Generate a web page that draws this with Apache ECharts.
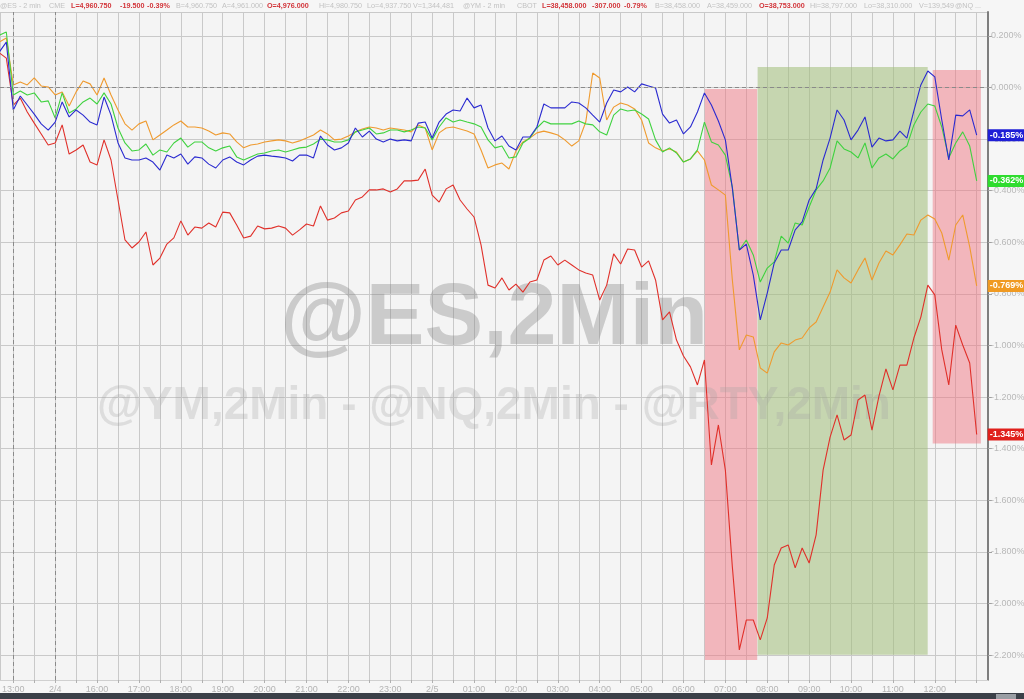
<!DOCTYPE html>
<html><head><meta charset="utf-8">
<script src="https://cdn.jsdelivr.net/npm/echarts@6/dist/echarts.min.js"></script>
<style>html,body{margin:0;padding:0;background:#f6f6f6}#c{width:1024px;height:699px}</style>
</head><body><div id="c"></div>
<script>
// time grid: hours counted from 13:00 (trading hours, break removed), 10-minute steps
const startHour = -1/3;
const stepHour = 1/6;

const hourLabels = ['13:00','2/4','16:00','17:00','18:00','19:00','20:00','21:00','22:00','23:00','2/5',
  '01:00','02:00','03:00','04:00','05:00','06:00','07:00','08:00','09:00','10:00','11:00','12:00'];

// % change, blue
const esValues = [0.138,0.176,-0.087,-0.033,-0.068,-0.103,-0.141,-0.165,-0.134,-0.056,
-0.114,-0.087,-0.107,-0.134,-0.145,-0.037,-0.107,-0.215,-0.273,-0.281,
-0.281,-0.273,-0.289,-0.320,-0.262,-0.273,-0.258,-0.297,-0.269,-0.273,
-0.297,-0.312,-0.281,-0.269,-0.289,-0.300,-0.281,-0.266,-0.262,-0.266,
-0.269,-0.273,-0.285,-0.262,-0.262,-0.273,-0.188,-0.223,-0.242,-0.234,
-0.215,-0.157,-0.192,-0.169,-0.200,-0.211,-0.200,-0.207,-0.203,-0.207,
-0.138,-0.134,-0.196,-0.134,-0.103,-0.087,-0.091,-0.041,-0.079,-0.068,
-0.157,-0.207,-0.188,-0.227,-0.242,-0.192,-0.192,-0.153,-0.064,-0.079,
-0.079,-0.079,-0.056,-0.060,-0.079,-0.107,-0.134,-0.060,-0.010,-0.017,
0.002,-0.017,0.014,0.006,-0.002,-0.103,-0.138,-0.126,-0.180,-0.153,
-0.095,-0.021,-0.068,-0.130,-0.203,-0.390,-0.630,-0.607,-0.727,-0.901,
-0.797,-0.680,-0.630,-0.630,-0.552,-0.521,-0.436,-0.393,-0.281,-0.196,
-0.087,-0.126,-0.203,-0.165,-0.114,-0.231,-0.196,-0.207,-0.203,-0.169,
-0.196,-0.091,0.010,0.064,0.041,-0.126,-0.281,-0.107,-0.110,-0.087,
-0.185];

// % change, green
const nqValues = [0.203,0.215,-0.029,-0.014,-0.029,-0.021,-0.056,-0.052,-0.118,-0.021,
-0.099,-0.083,-0.056,-0.041,-0.064,-0.021,-0.064,-0.157,-0.215,-0.246,
-0.242,-0.219,-0.262,-0.242,-0.250,-0.215,-0.196,-0.231,-0.211,-0.211,
-0.234,-0.246,-0.234,-0.227,-0.269,-0.281,-0.269,-0.258,-0.254,-0.246,
-0.242,-0.250,-0.242,-0.234,-0.231,-0.219,-0.200,-0.203,-0.211,-0.211,
-0.203,-0.172,-0.165,-0.157,-0.180,-0.176,-0.165,-0.165,-0.172,-0.165,
-0.153,-0.157,-0.203,-0.153,-0.118,-0.134,-0.126,-0.134,-0.141,-0.153,
-0.203,-0.234,-0.227,-0.273,-0.269,-0.215,-0.196,-0.157,-0.130,-0.141,
-0.141,-0.141,-0.141,-0.130,-0.141,-0.145,-0.172,-0.184,-0.107,-0.083,
-0.091,-0.087,-0.103,-0.122,-0.203,-0.250,-0.234,-0.254,-0.289,-0.277,
-0.242,-0.134,-0.211,-0.223,-0.262,-0.386,-0.630,-0.591,-0.649,-0.754,
-0.700,-0.676,-0.576,-0.603,-0.525,-0.533,-0.463,-0.397,-0.362,-0.312,
-0.207,-0.238,-0.250,-0.273,-0.215,-0.312,-0.273,-0.258,-0.277,-0.246,
-0.227,-0.145,-0.095,-0.064,-0.072,-0.153,-0.273,-0.215,-0.172,-0.227,
-0.362];

// % change, orange
const ymValues = [0.176,0.192,0.010,0.021,0.010,0.037,0.006,0.002,-0.029,-0.017,
-0.072,-0.017,0.025,0.014,-0.029,0.037,-0.029,-0.087,-0.141,-0.165,
-0.141,-0.130,-0.203,-0.184,-0.165,-0.145,-0.130,-0.153,-0.153,-0.157,
-0.169,-0.184,-0.176,-0.180,-0.211,-0.234,-0.223,-0.219,-0.211,-0.207,
-0.203,-0.207,-0.215,-0.207,-0.196,-0.184,-0.165,-0.180,-0.203,-0.200,
-0.188,-0.172,-0.161,-0.153,-0.157,-0.165,-0.157,-0.161,-0.165,-0.172,
-0.145,-0.157,-0.242,-0.176,-0.157,-0.153,-0.161,-0.169,-0.180,-0.242,
-0.312,-0.300,-0.293,-0.316,-0.246,-0.211,-0.196,-0.176,-0.169,-0.176,
-0.184,-0.203,-0.227,-0.207,-0.134,0.056,0.037,-0.126,-0.076,-0.060,
-0.068,-0.083,-0.126,-0.215,-0.234,-0.246,-0.238,-0.250,-0.289,-0.277,
-0.246,-0.281,-0.378,-0.397,-0.417,-0.746,-1.017,-0.959,-0.967,-1.087,
-1.107,-1.025,-0.990,-0.998,-0.979,-0.971,-0.932,-0.909,-0.851,-0.793,
-0.707,-0.738,-0.758,-0.707,-0.661,-0.746,-0.680,-0.634,-0.649,-0.610,
-0.568,-0.572,-0.514,-0.494,-0.510,-0.564,-0.669,-0.533,-0.494,-0.618,
-0.769];

// % change, red
const rtyValues = [0.134,0.114,-0.068,-0.041,-0.095,-0.138,-0.180,-0.223,-0.215,-0.145,
-0.258,-0.242,-0.223,-0.289,-0.300,-0.203,-0.281,-0.436,-0.591,-0.622,
-0.599,-0.560,-0.688,-0.661,-0.607,-0.583,-0.517,-0.572,-0.541,-0.545,
-0.525,-0.541,-0.483,-0.486,-0.533,-0.583,-0.576,-0.537,-0.548,-0.545,
-0.537,-0.545,-0.572,-0.552,-0.529,-0.537,-0.459,-0.514,-0.506,-0.486,
-0.479,-0.436,-0.424,-0.397,-0.397,-0.393,-0.405,-0.393,-0.362,-0.362,
-0.359,-0.316,-0.417,-0.444,-0.393,-0.378,-0.436,-0.471,-0.502,-0.610,
-0.766,-0.777,-0.738,-0.785,-0.762,-0.793,-0.754,-0.746,-0.669,-0.653,
-0.688,-0.669,-0.688,-0.707,-0.719,-0.727,-0.824,-0.766,-0.645,-0.684,
-0.626,-0.630,-0.696,-0.672,-0.746,-0.901,-0.870,-0.979,-1.041,-1.083,
-1.153,-1.056,-1.463,-1.308,-1.483,-1.858,-2.180,-2.064,-2.064,-2.141,
-2.056,-1.851,-1.785,-1.773,-1.862,-1.785,-1.843,-1.734,-1.483,-1.355,
-1.269,-1.366,-1.347,-1.211,-1.192,-1.328,-1.196,-1.091,-1.172,-1.076,
-1.076,-0.971,-0.890,-0.766,-0.804,-1.017,-1.153,-0.921,-0.998,-1.068,
-1.345];

// shaded windows (hour index, % range)
const shadeFrom = [16.51, 17.77, 21.95];
const shadeTo   = [17.76, 21.83, 23.10];
const shadeTop  = [-0.006, 0.079, 0.068];
const shadeBot  = [-2.219, -2.199, -1.380];
const shadeKind = ['red', 'green', 'red'];

const headerItems = [
  ['@ES - 2 min',0,0],['CME',49,0],['L=4,960.750',71,1],['-19.500',120,1],['-0.39%',147,1],
  ['B=4,960.750',176,0],['A=4,961.000',222,0],['O=4,976.000',267,1],['Hi=4,980.750',319,0],
  ['Lo=4,937.750',367,0],['V=1,344,481',413,0],['@YM - 2 min',463,0],['CBOT',517,0],
  ['L=38,458.000',542,1],['-307.000',592,1],['-0.79%',624,1],['B=38,458.000',655,0],
  ['A=38,459.000',707,0],['O=38,753.000',759,1],['Hi=38,797.000',810,0],['Lo=38,310.000',864,0],
  ['V=139,549',919,0],['@NQ ...',955,0]
];

const toPairs = vals => vals.map((v, i) => [startHour + i * stepHour, v]);

const chart = echarts.init(document.getElementById('c'), null, {renderer: 'canvas'});
const FONT = '"Liberation Sans", Arial, sans-serif';

function lineSeries(name, vals, color, badge) {
  return {
    name, type: 'line', data: toPairs(vals), showSymbol: false, symbol: 'none',
    z: 4, lineStyle: {color, width: 1.1}, itemStyle: {color},
    animation: false,
    endLabel: {
      show: true, distance: 11,
      formatter: p => p.value[1].toFixed(3) + '%',
      backgroundColor: badge, color: '#fff', fontSize: 9, fontWeight: 'bold',
      fontFamily: FONT, padding: [2, 2, 1, 2]
    }
  };
}

const areaColors = {red: 'rgba(240,120,132,0.5)', green: 'rgba(160,190,120,0.55)'};
const areaData = shadeFrom.map((f, i) => [
  {xAxis: f, yAxis: shadeTop[i], itemStyle: {color: areaColors[shadeKind[i]]}},
  {xAxis: shadeTo[i], yAxis: shadeBot[i]}
]);

const graphics = [
  {type: 'text', x: 494, y: 320, z: 3, silent: true,
   style: {text: '@ES,2Min', font: 'bold 88px ' + FONT,
           fill: 'rgba(130,130,130,0.36)', align: 'center', verticalAlign: 'middle'}},
  {type: 'text', x: 494, y: 406, z: 3, silent: true,
   style: {text: '@YM,2Min - @NQ,2Min - @RTY,2Min', font: 'bold 46px ' + FONT,
           fill: 'rgba(160,160,160,0.28)', align: 'center', verticalAlign: 'middle'}},
  {type: 'rect', z: 10, silent: true, shape: {x: 0, y: 693, width: 1024, height: 6}, style: {fill: '#3b4048'}},
  {type: 'rect', z: 11, silent: true, shape: {x: 996, y: 694, width: 20, height: 5}, style: {fill: '#9a9ea4'}}
];
headerItems.forEach(h => {
  graphics.push({type: 'text', x: h[1], y: 6, z: 10, silent: true,
    style: {text: h[0], fill: h[2] ? '#d2353a' : '#c2c2c2',
      font: (h[2] ? 'bold 7.2px ' : '7.2px ') + FONT,
      align: 'left', verticalAlign: 'middle'}});
});

chart.setOption({
  backgroundColor: '#f6f6f6',
  animation: false,
  grid: {left: 0, right: 36, top: 12, bottom: 19, show: true, backgroundColor: '#f4f4f4', borderWidth: 0,
         containLabel: false, outerBoundsMode: 'none'},
  xAxis: {
    type: 'value', min: -0.3174, max: 23.27, splitNumber: 47,
    axisLine: {show: true, onZero: false, lineStyle: {color: '#d0d0d0'}},
    axisTick: {show: true, length: 3, lineStyle: {color: '#b0b0b0'}},
    splitLine: {show: true, lineStyle: {color: '#c9c9c9', width: 1}},
    axisLabel: {
      color: '#b4b4b4', fontSize: 9, margin: 5, showMaxLabel: false, showMinLabel: false,
      fontFamily: FONT,
      formatter: v => (Math.abs(v - Math.round(v)) < 1e-6 && v >= 0 && v < hourLabels.length) ? hourLabels[Math.round(v)] : ''
    }
  },
  yAxis: {
    type: 'value', position: 'right', min: -2.2965, max: 0.2926, splitNumber: 13,
    axisLine: {show: true, onZero: false, lineStyle: {color: '#7e7e7e', width: 2}},
    axisTick: {show: true, length: 4, lineStyle: {color: '#a0a0a0'}},
    splitLine: {show: true, lineStyle: {color: '#c9c9c9', width: 1}},
    axisLabel: {
      color: '#b8b8b8', fontSize: 9, margin: 3, showMinLabel: false, showMaxLabel: false,
      fontFamily: FONT,
      formatter: v => (Math.abs(v * 5 - Math.round(v * 5)) < 1e-6) ? v.toFixed(3) + '%' : ''
    }
  },
  graphic: graphics,
  series: [
    {type: 'line', name: 'shade', data: [], z: 1, silent: true,
     markArea: {silent: true, data: areaData},
     markLine: {silent: true, symbol: 'none', label: {show: false},
       lineStyle: {color: '#8a8a8a', type: [4, 3], width: 1},
       data: [{yAxis: 0}, {xAxis: 0}, {xAxis: 1}]}},
    lineSeries('RTY', rtyValues, '#e0302a', '#e0201c'),
    lineSeries('YM', ymValues, '#ef9a2e', '#f09a22'),
    lineSeries('NQ', nqValues, '#3fd23f', '#2edc2e'),
    lineSeries('ES', esValues, '#2a2ad0', '#1f1fd6')
  ]
});
</script>
</body></html>
